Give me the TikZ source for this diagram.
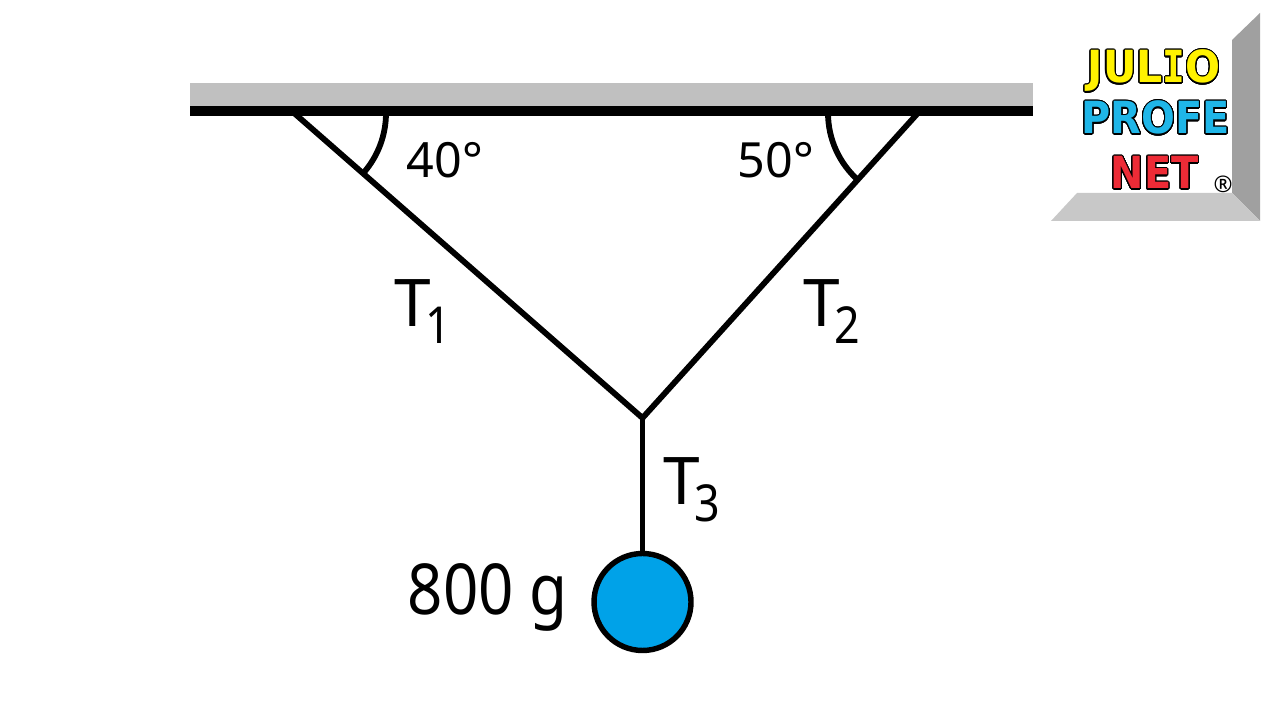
\documentclass[tikz,border=0pt]{standalone}
\usepackage{fontspec}
\usepackage{xcolor}
\usepackage[copies]{contour}
\setmainfont{Noto Sans}
\newfontfamily\logofont[FakeStretch=0.93]{DejaVu Sans Bold}
\newfontfamily\logonarrow[FakeStretch=0.9]{DejaVu Sans Bold}
\newfontfamily\logomono[FakeStretch=0.85]{DejaVu Sans Mono Bold}
\newfontfamily\narrowfont[FakeStretch=0.88]{Noto Sans}
\definecolor{ceilgray}{HTML}{C0C0C0}
\definecolor{ballblue}{HTML}{00A2E8}
\definecolor{bevelgray}{HTML}{A0A0A0}
\definecolor{bevellight}{HTML}{C8C8C8}
\definecolor{logoyellow}{HTML}{FFF200}
\definecolor{logoblue}{HTML}{1FB6E8}
\definecolor{logored}{HTML}{ED2B36}
\contourlength{0.3pt}
\contournumber{32}
\newcommand{\tlabel}[1]{T\kern-1.6pt\raisebox{-4.6pt}{\narrowfont\fontsize{14.5}{15}\selectfont #1}}
\newcommand{\logotext}[2]{\contour{black}{\textcolor{#1}{#2}}}
\tikzset{
  rope/.style={line width=1.65pt},
  lbl/.style={inner sep=0pt,anchor=base west,font=\fontsize{18.7}{20}\selectfont},
  anglelbl/.style={inner sep=0pt,anchor=base west,font=\fontsize{13.8}{15}\selectfont},
  logolbl/.style={inner sep=0pt,anchor=base west,font=\logofont\fontsize{12.6}{15}\selectfont}
}
\begin{document}
\begin{tikzpicture}
\useasboundingbox (0,0) rectangle (12.8,7.2);
\fill[white] (0,0) rectangle (12.8,7.2);
% ceiling
\fill[ceilgray] (1.90,6.37) rectangle (10.33,6.14);
\fill[black] (1.90,6.14) rectangle (10.33,6.04);
% points of the ropes
\coordinate (anchorL) at (2.94,6.07);
\coordinate (anchorR) at (9.18,6.07);
\coordinate (knot) at (6.425,3.02);
\node[circle,draw,fill=ballblue,line width=1.55pt,minimum size=0.97cm,inner sep=0pt] (ball) at (6.425,1.18) {};
\draw[rope] (anchorL) -- (knot);
\draw[rope] (anchorR) -- (knot);
\draw[rope] (knot) -- (ball);
% angle marks
\draw[rope] (3.86,6.07) arc[start angle=0,end angle=-41,radius=0.91];
\draw[rope] (8.28,6.07) arc[start angle=180,end angle=229,radius=0.90];
\node[anglelbl] (angleL) at (4.06,5.42) {40°};
\node[anglelbl] (angleR) at (7.37,5.42) {50°};
\node[lbl] (tOne) at (3.94,3.93) {\tlabel{1}};
\node[lbl] (tTwo) at (8.03,3.93) {\tlabel{2}};
\node[lbl] (tThree) at (6.63,2.15) {\tlabel{3}};
\node[lbl,font=\narrowfont\fontsize{20}{22}\selectfont] (mass) at (4.07,1.05) {800 g};
% logo
\fill[bevelgray] (12.60,7.07) -- (12.32,6.80) -- (12.32,5.27) -- (12.60,4.99) -- cycle;
\fill[bevellight] (12.32,5.27) -- (12.60,4.99) -- (10.51,4.99) -- (10.77,5.27) -- cycle;
\node[logolbl] (julio) at (10.87,6.37) {\logotext{logoyellow}{JUL{\logomono I}O}};
\node[logolbl,font=\logonarrow\fontsize{12.6}{15}\selectfont] (profe) at (10.81,5.86) {\logotext{logoblue}{PROFE}};
\node[logolbl,font=\logonarrow\fontsize{12.6}{15}\selectfont] (net) at (11.10,5.31) {\logotext{logored}{NET}};
\node[inner sep=0pt,font=\bfseries\fontsize{6.5}{7}\selectfont] (reg) at (12.23,5.36) {®};
\end{tikzpicture}
\end{document}
